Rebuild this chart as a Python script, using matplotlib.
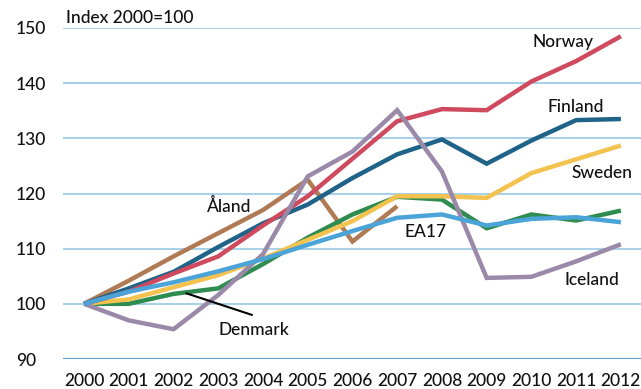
import numpy as np
import matplotlib
matplotlib.use("Agg")
import matplotlib.pyplot as plt

plt.rcParams['font.family'] = ['Lato', 'DejaVu Sans']

years = list(range(2000, 2013))

aland = [100, 104.2, 108.6, 112.8, 117.0, 122.5, 111.3, 117.7]
denmark = [100, 100.0, 101.8, 102.8, 107.2, 112.0, 116.2, 119.4, 118.9, 113.7, 116.2, 115.1, 116.9]
sweden = [100, 100.8, 103.0, 105.2, 108.2, 111.6, 115.0, 119.5, 119.5, 119.2, 123.7, 126.2, 128.7]
finland = [100, 102.8, 105.8, 110.3, 114.6, 118.0, 122.8, 127.1, 129.8, 125.4, 129.6, 133.3, 133.5]
norway = [100, 102.2, 105.5, 108.6, 114.2, 119.5, 126.3, 133.1, 135.3, 135.1, 140.3, 144.0, 148.5]
iceland = [100, 97.0, 95.4, 101.6, 109.0, 123.1, 127.6, 135.1, 124.0, 104.7, 104.9, 107.7, 110.8]
ea17 = [100, 102.2, 103.9, 105.9, 108.1, 110.7, 113.2, 115.6, 116.2, 114.2, 115.4, 115.7, 114.8]

series = [
    ("Åland", aland, "#b07a55"),
    ("Denmark", denmark, "#2f8c50"),
    ("Sweden", sweden, "#f3c24f"),
    ("Finland", finland, "#1f6388"),
    ("Norway", norway, "#cf4a5e"),
    ("Iceland", iceland, "#9a89a8"),
    ("EA17", ea17, "#4ba4d8"),
]

# where each series name is written (year, index)
label_pos = {
    "Norway": (2010.7, 147.4),
    "Finland": (2011.0, 135.6),
    "Sweden": (2011.57, 123.8),
    "Åland": (2003.24, 117.6),
    "EA17": (2007.64, 113.1),
    "Iceland": (2011.35, 104.4),
    "Denmark": (2003.8, 95.2),
}

FS = 12.5
TXT = "#111111"

fig = plt.figure(figsize=(6.41, 3.89), dpi=100)
ax = fig.add_axes([63 / 641, 30 / 389, 578 / 641, 331 / 389])

for y in range(100, 151, 10):
    ax.axhline(y, color="#a9d1e8", lw=1.5, zorder=0)
ax.axhline(90, color="#5b9ac8", lw=1.5, zorder=0)

for name, vals, col in series:
    ax.plot(years[:len(vals)], vals, color=col, lw=3.2, solid_joinstyle="miter",
            solid_capstyle="butt", zorder=2)

for name, (x, y) in label_pos.items():
    ax.text(x, y, name, ha="center", va="center", fontsize=FS, fontweight="medium",
            color=TXT, zorder=3)

# leader line to Denmark
ax.plot([2002.29, 2003.75], [101.9, 98.0], color="black", lw=1.5, zorder=3)

ax.set_xlim(1999.53, 2012.45)
ax.set_ylim(90, 150)
ax.set_xticks(years)
ax.set_xticklabels([str(y) for y in years])
ax.set_yticks(range(90, 151, 10))
for s in ax.spines.values():
    s.set_visible(False)
ax.tick_params(axis="both", length=0, labelsize=FS, colors=TXT)
ax.tick_params(axis="x", pad=10)
ax.tick_params(axis="y", pad=34)
for lab in ax.get_xticklabels() + ax.get_yticklabels():
    lab.set_fontweight("medium")
for lab in ax.get_yticklabels():
    lab.set_horizontalalignment("left")

fig.text(66 / 641, 1 - 18 / 389, "Index 2000=100", ha="left", va="center",
         fontsize=FS, fontweight="medium", color=TXT)

fig.savefig("out.png", dpi=100, facecolor="white")
